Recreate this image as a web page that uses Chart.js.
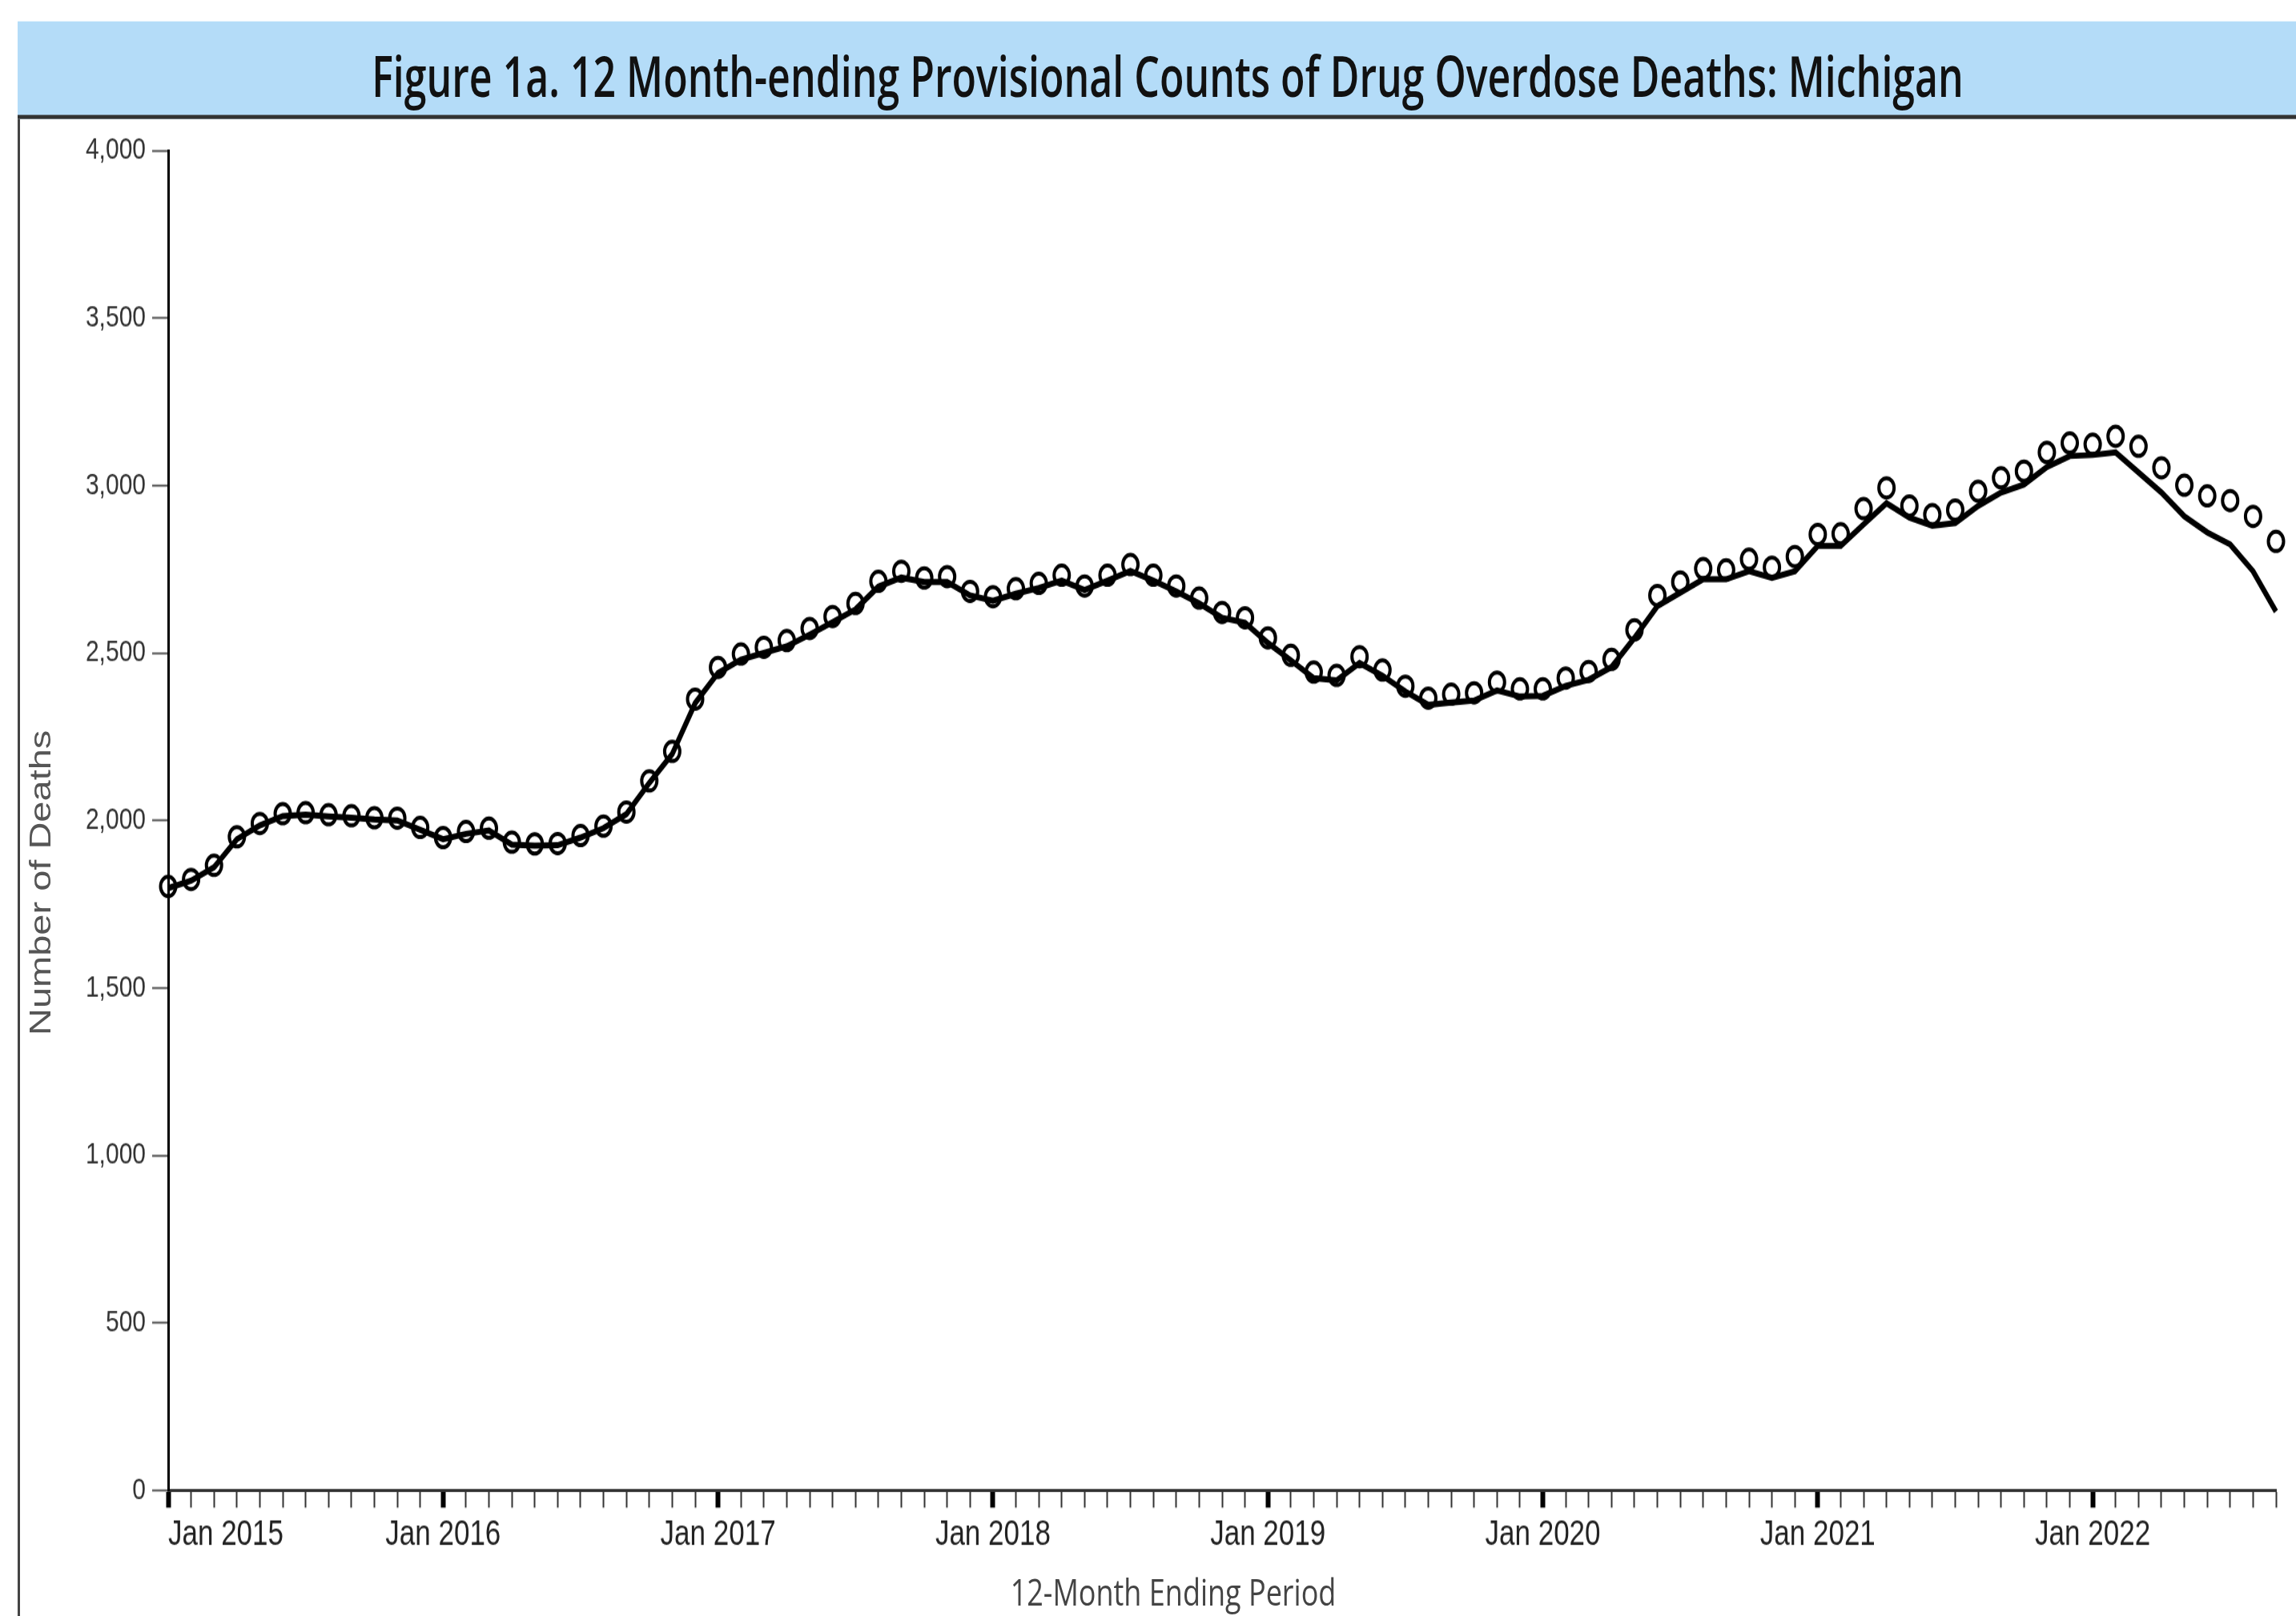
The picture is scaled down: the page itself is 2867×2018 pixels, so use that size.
<!DOCTYPE html>
<html lang="en">
<head>
<meta charset="UTF-8">
<title>12 Month-ending Provisional Counts of Drug Overdose Deaths: Michigan</title>
<script src="https://cdn.jsdelivr.net/npm/chart.js@4.4.0/dist/chart.umd.min.js"></script>
<style>
  html, body { margin:0; padding:0; background:#fff; overflow:hidden; }
  body { width:2867px; height:2018px; position:relative; }
  /* the reference is stretched vertically, so everything is laid out 1.27x shorter and stretched back */
  .stage { position:absolute; left:0; top:0; width:2867px; height:1589px; transform:scaleY(1.27); transform-origin:0 0; }
  .band { position:absolute; left:22px; top:21px; width:2880px; height:92px; background:#b4dcf8; border-bottom:4px solid #333; }
  .title { position:absolute; left:0; top:27px; width:2916px; height:92px; line-height:92px; text-align:center;
           font-family:'Open Sans', sans-serif; font-weight:600; font-size:56px; color:#111; white-space:nowrap;
           transform:scaleX(0.893); transform-origin:1458px 0; }
  .frame { position:absolute; left:22px; top:117px; width:3px; height:1480px; background:#444; }
  canvas { position:absolute; left:0; top:0; }
  .ytitle { position:absolute; left:51px; top:868px; transform:translate(-50%,-50%) rotate(-90deg);
            font-family:'Liberation Sans', Arial, sans-serif; font-size:37px; color:#555; white-space:nowrap; }
  .xtitle { position:absolute; left:1465px; top:1565px; transform:translate(-50%,-50%);
            font-family:'Open Sans', sans-serif; font-size:36px; color:#444; white-space:nowrap; }
</style>
</head>
<body>
<div class="stage">
  <div class="band"></div>
  <div class="title">Figure 1a. 12 Month-ending Provisional Counts of Drug Overdose Deaths: Michigan</div>
  <div class="frame"></div>
  <canvas id="chart" width="2867" height="1589"></canvas>
  <div class="ytitle">Number of Deaths</div>
  <div class="xtitle">12-Month Ending Period</div>
</div>

<script>
// periods: Jan 2015 .. Sep 2022
const years = [2015, 2016, 2017, 2018, 2019, 2020, 2021, 2022];
const monthNames = ['Jan','Feb','Mar','Apr','May','Jun','Jul','Aug','Sep','Oct','Nov','Dec'];
const lastPeriod = 'Sep 2022';
let categories = [];
years.forEach(y => monthNames.forEach(m => categories.push(m + ' ' + y)));
categories = categories.slice(0, categories.indexOf(lastPeriod) + 1);

// predicted counts (circles)
const predicted = [
  1803, 1824, 1866, 1951, 1991, 2020, 2023, 2017, 2014, 2008, 2007, 1979,
  1949, 1967, 1977, 1935, 1930, 1931, 1955, 1983, 2025, 2118, 2206, 2362,
  2457, 2497, 2517, 2537, 2573, 2609, 2648, 2714, 2744, 2724, 2728, 2684,
  2668, 2692, 2708, 2732, 2700, 2732, 2764, 2732, 2700, 2664, 2621, 2605,
  2545, 2493, 2443, 2433, 2489, 2449, 2401, 2365, 2377, 2381, 2413, 2393,
  2393, 2425, 2445, 2481, 2569, 2672, 2712, 2752, 2748, 2780, 2756, 2788,
  2854, 2856, 2931, 2993, 2939, 2913, 2927, 2983, 3023, 3043, 3099, 3127,
  3123, 3147, 3117, 3053, 3001, 2969, 2955, 2908, 2833
];

// reported counts (solid line)
const reported = [
  1798, 1820, 1860, 1944, 1985, 2013, 2017, 2012, 2008, 2003, 2000, 1972,
  1944, 1960, 1970, 1928, 1925, 1926, 1949, 1977, 2019, 2112, 2198, 2350,
  2440, 2480, 2500, 2520, 2555, 2592, 2630, 2698, 2725, 2712, 2712, 2672,
  2656, 2677, 2694, 2716, 2688, 2716, 2745, 2716, 2684, 2648, 2605, 2590,
  2530, 2478, 2425, 2418, 2470, 2432, 2385, 2345, 2352, 2358, 2388, 2370,
  2372, 2402, 2420, 2458, 2545, 2640, 2680, 2720, 2720, 2744, 2724, 2744,
  2820, 2820, 2884, 2947, 2904, 2880, 2888, 2939, 2979, 3003, 3055, 3088,
  3091, 3099, 3039, 2979, 2908, 2860, 2824, 2744, 2624
];

const yMin = 0, yMax = 4000, yStep = 500;

function isJan(i) {
  return categories[i] && categories[i].startsWith('Jan');
}

new Chart(document.getElementById('chart'), {
  type: 'line',
  data: {
    labels: categories,
    datasets: [
      {
        label: 'Predicted',
        data: predicted,
        showLine: false,
        pointStyle: 'circle',
        pointRadius: 9.5,
        pointBorderWidth: 4,
        pointBorderColor: '#000',
        pointBackgroundColor: 'rgba(0,0,0,0)',
        clip: false
      },
      {
        label: 'Reported',
        data: reported,
        borderColor: '#000',
        borderWidth: 6,
        pointRadius: 0,
        tension: 0,
        fill: false,
        clip: false
      }
    ]
  },
  options: {
    responsive: false,
    animation: false,
    devicePixelRatio: 1,
    layout: { padding: { top: 148, right: 25, left: 0, bottom: 0 } },
    plugins: { legend: { display: false }, tooltip: { enabled: false } },
    scales: {
      x: {
        grid: {
          drawOnChartArea: false,
          drawTicks: true,
          tickLength: 17,
          tickWidth: ctx => isJan(ctx.index) ? 6 : 2,
          tickColor: ctx => isJan(ctx.index) ? '#000' : '#333'
        },
        border: { color: '#333', width: 3 },
        ticks: {
          autoSkip: false,
          maxRotation: 0,
          minRotation: 0,
          align: 'inner',
          padding: 6,
          color: '#222',
          font: { family: 'Liberation Sans', size: 35 },
          callback: (v, i) => isJan(i) ? categories[i] : ''
        },
        afterFit: s => { s.height = 123.6; }
      },
      y: {
        min: yMin,
        max: yMax,
        ticks: {
          stepSize: yStep,
          padding: 8,
          color: '#333',
          font: { family: 'Liberation Sans', size: 30 }
        },
        grid: { drawOnChartArea: false, tickLength: 20, tickWidth: 2, tickColor: '#555' },
        border: { color: '#000', width: 3 },
        afterFit: s => { s.width = 210; }
      }
    }
  }
});
</script>
</body>
</html>
